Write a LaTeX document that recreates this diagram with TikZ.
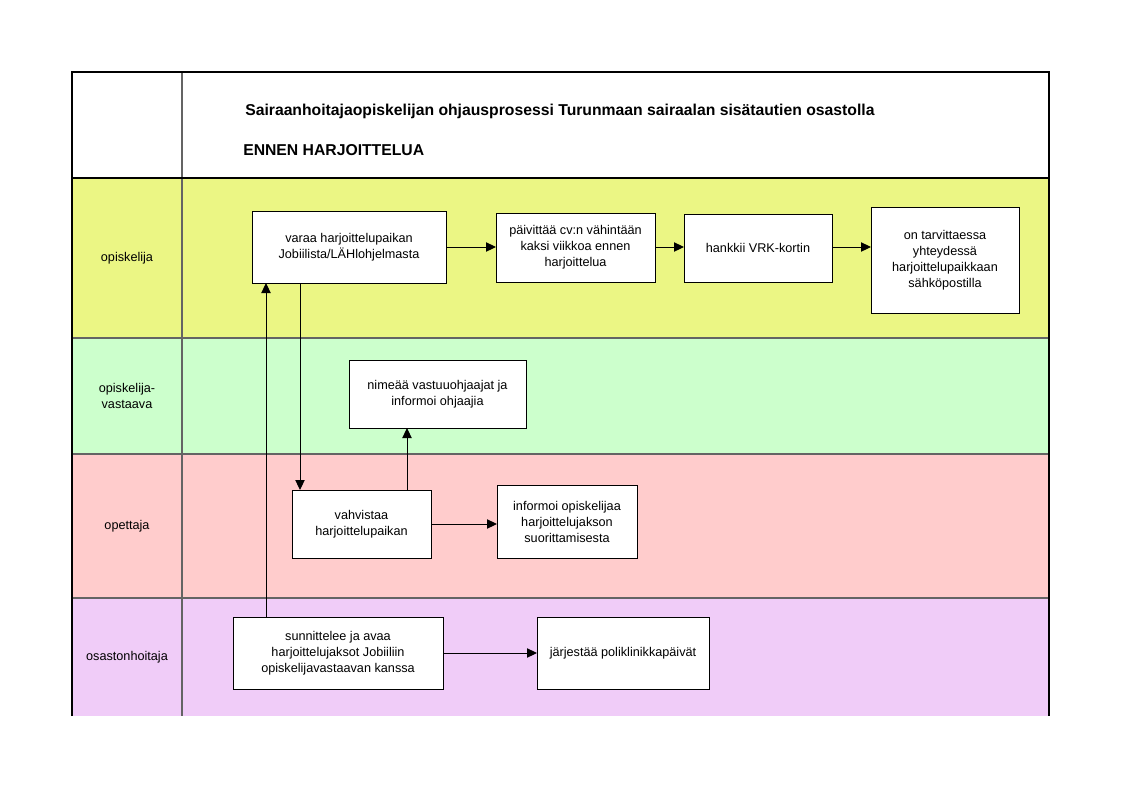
\documentclass[tikz,border=0pt]{standalone}
\usepackage{fontspec}
\setmainfont{Liberation Sans}
\usetikzlibrary{arrows.meta}
\definecolor{laneY}{RGB}{235,246,132}
\definecolor{laneG}{RGB}{204,255,204}
\definecolor{laneR}{RGB}{255,204,204}
\definecolor{laneP}{RGB}{240,204,248}
\definecolor{sepgray}{RGB}{100,100,100}
\tikzset{
  stepbox/.style 2 args={draw=black, fill=white, line width=0.75pt, align=center,
    inner sep=2pt, outer sep=0pt, minimum width={#1*0.75pt}, minimum height={#2*0.75pt},
    font=\fontsize{9.5}{12}\selectfont, text=black},
  lanelabel/.style={align=center, font=\fontsize{9.5}{12}\selectfont, text=black},
  titletext/.style={anchor=west, inner sep=0pt, font=\fontsize{11.8}{14}\selectfont\bfseries, text=black},
  arr/.style={line width=0.75pt, -{Triangle[length=7.5pt,width=7pt]}},
  sepline/.style={draw=sepgray, line width=0.9pt},
  edge/.style={draw=black, line width=0.8pt}
}
\begin{document}
\begin{tikzpicture}[x=0.75pt,y=-0.75pt]
\useasboundingbox (0,0) rectangle (1122,794);
% lane fills
\fill[white] (72,72) rectangle (1049,178);
\fill[laneY] (72,178) rectangle (1049,338);
\fill[laneG] (72,338) rectangle (1049,454);
\fill[laneR] (72,454) rectangle (1049,598);
\fill[laneP] (72,598) rectangle (1049,716);
% separators
\draw[sepline] (72,338) -- (1049,338);
\draw[sepline] (72,454) -- (1049,454);
\draw[sepline] (72,598) -- (1049,598);
\draw[sepline] (182,72) -- (182,716);
\draw[edge] (72,178) -- (1049,178);
\draw[edge] (72,716) -- (72,72) -- (1049,72) -- (1049,716);
% header texts
\node[titletext] (title) at (245,111) {Sairaanhoitajaopiskelijan ohjausprosessi Turunmaan sairaalan sisätautien osastolla};
\node[titletext] (phase) at (243,150) {ENNEN HARJOITTELUA};
% lane labels
\node[lanelabel] (l1) at (127,258) {opiskelija};
\node[lanelabel] (l2) at (127,396) {opiskelija-\\vastaava};
\node[lanelabel] (l3) at (127,526) {opettaja};
\node[lanelabel] (l4) at (127,657) {osastonhoitaja};
% boxes
\node[stepbox={194}{72}] (varaa) at (349,247) {varaa harjoittelupaikan\\Jobiilista/LÄHlohjelmasta};
\node[stepbox={159}{69}] (paiv) at (575.5,247.5) {päivittää cv:n vähintään\\kaksi viikkoa ennen\\harjoittelua};
\node[stepbox={148}{68}] (hank) at (758,248) {hankkii VRK-kortin};
\node[stepbox={148}{106}] (tarv) at (945,260) {on tarvittaessa\\yhteydessä\\harjoittelupaikkaan\\sähköpostilla};
\node[stepbox={177}{68}] (nime) at (437.5,394) {nimeää vastuuohjaajat ja\\informoi ohjaajia};
\node[stepbox={139}{68}] (vahv) at (361.5,524) {vahvistaa\\harjoittelupaikan};
\node[stepbox={140}{73}] (info) at (567,521.5) {informoi opiskelijaa\\harjoittelujakson\\suorittamisesta};
\node[stepbox={210}{72}] (sunn) at (338,653) {sunnittelee ja avaa\\harjoittelujaksot Jobiiliin\\opiskelijavastaavan kanssa};
\node[stepbox={172}{72}] (jarj) at (623,653) {järjestää poliklinikkapäivät};
% helper x positions
\coordinate (x266) at (266,0);
\coordinate (x300) at (300,0);
\coordinate (x407) at (407,0);
% connectors
\draw[arr] (varaa.east) -- (paiv.west |- varaa.east);
\draw[arr] (paiv.east |- varaa.east) -- (hank.west |- varaa.east);
\draw[arr] (hank.east |- varaa.east) -- (tarv.west |- varaa.east);
\draw[arr] (varaa.south -| x300) -- (vahv.north -| x300);
\draw[arr] (sunn.north -| x266) -- (varaa.south -| x266);
\draw[arr] (vahv.north -| x407) -- (nime.south -| x407);
\draw[arr] (vahv.east) -- (info.west |- vahv.east);
\draw[arr] (sunn.east) -- (jarj.west |- sunn.east);
\end{tikzpicture}
\end{document}
